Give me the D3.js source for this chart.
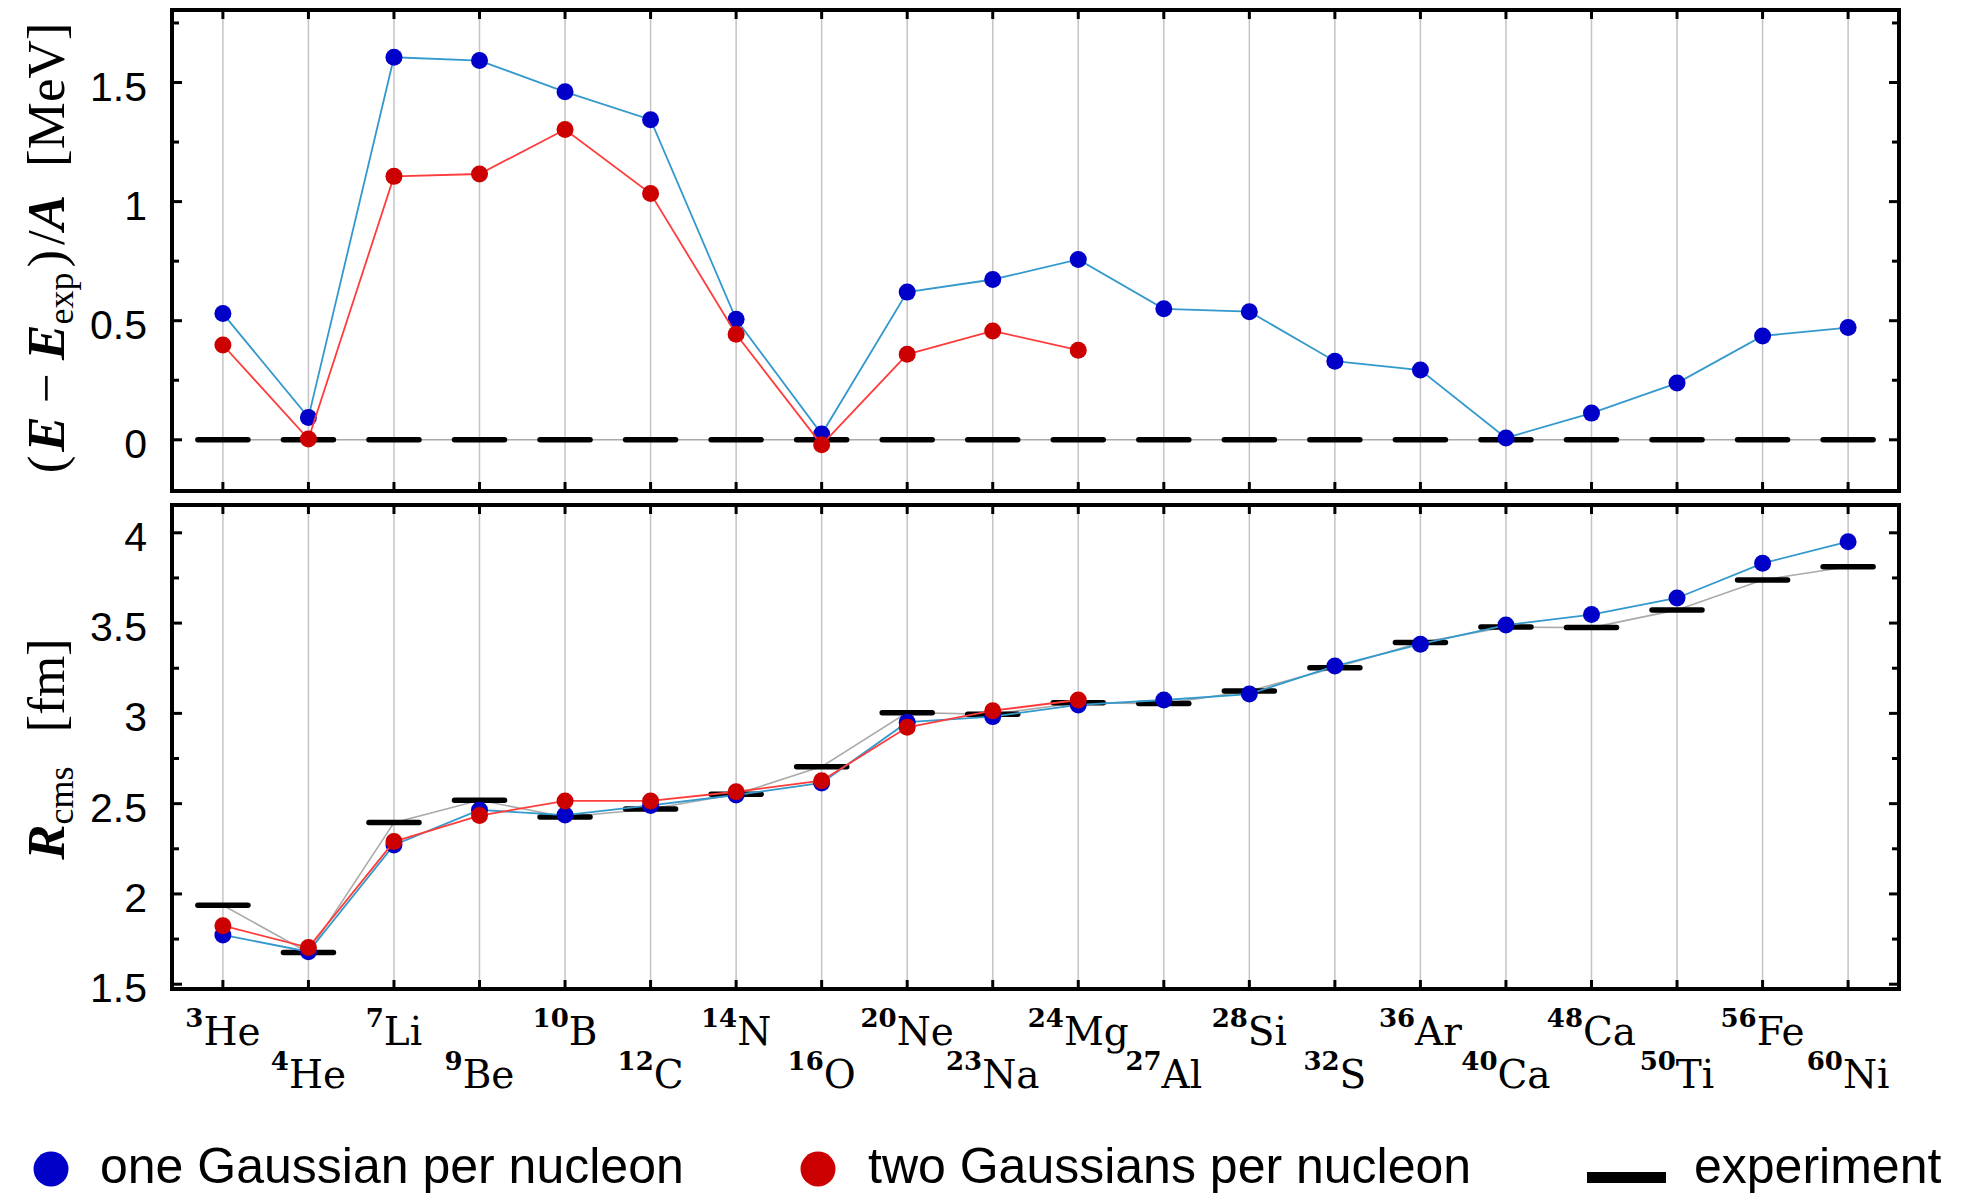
<!DOCTYPE html>
<html>
<head>
<meta charset="utf-8">
<script src="https://cdn.jsdelivr.net/npm/d3@7"></script>
<style>
  html, body { margin: 0; padding: 0; background: #fff; }
  svg { display: block; }
</style>
</head>
<body>
<svg id="chart" width="1964" height="1193"></svg>
<script>
// Nuclei along the x axis: mass number and element symbol
const massNumbers = ["3","4","7","9","10","12","14","16","20","23","24","27","28","32","36","40","48","50","56","60"];
const elements    = ["He","He","Li","Be","B","C","N","O","Ne","Na","Mg","Al","Si","S","Ar","Ca","Ca","Ti","Fe","Ni"];
const nuclei = massNumbers.map((a, i) => a + elements[i]);

// Binding energy deviation (E - E_exp)/A in MeV
const energyOneGauss = [0.530, 0.094, 1.606, 1.592, 1.461, 1.344, 0.506, 0.024, 0.620, 0.673,
                        0.757, 0.550, 0.538, 0.330, 0.293, 0.008, 0.112, 0.238, 0.436, 0.471];
const energyTwoGauss = [0.398, 0.003, 1.106, 1.116, 1.303, 1.034, 0.443, -0.021, 0.359, 0.457,
                        0.376, null, null, null, null, null, null, null, null, null];
const energyExp      = [0, 0, 0, 0, 0, 0, 0, 0, 0, 0, 0, 0, 0, 0, 0, 0, 0, 0, 0, 0];

// Charge radii R_cms in fm
const radiusOneGauss = [1.773, 1.680, 2.271, 2.465, 2.437, 2.490, 2.548, 2.615, 2.951, 2.982,
                        3.047, 3.074, 3.107, 3.262, 3.383, 3.489, 3.547, 3.639, 3.831, 3.951];
const radiusTwoGauss = [1.824, 1.703, 2.290, 2.434, 2.515, 2.515, 2.566, 2.627, 2.923, 3.015,
                        3.074, null, null, null, null, null, null, null, null, null];
const radiusExp      = [1.937, 1.675, 2.395, 2.519, 2.426, 2.470, 2.552, 2.705, 3.004, 2.995,
                        3.059, 3.054, 3.124, 3.253, 3.392, 3.478, 3.475, 3.573, 3.739, 3.812];

// Axis ticks
const energyTicks = [0, 0.5, 1, 1.5];
const energyMinor = [0.25, 0.75, 1.25, 1.75];
const radiusTicks = [1.5, 2, 2.5, 3, 3.5, 4];
const radiusMinor = [1.75, 2.25, 2.75, 3.25, 3.75];

const legendLabels = ["one Gaussian per nucleon", "two Gaussians per nucleon", "experiment"];

const C = {
  blueMark: "#0000c8", blueLine: "#3399cc",
  redMark: "#cc0000",  redLine: "#ff3c3c",
  expLine: "#aaaaaa", grid: "#c4c4c4"
};

const svg = d3.select("#chart");
const left = 172, right = 1899;

const x = d3.scalePoint().domain(nuclei).range([left, right]).padding(0.595);

const panels = [
  { top: 10, bottom: 491, domain: [-0.215, 1.8045], ticks: energyTicks, minor: energyMinor,
    one: energyOneGauss, two: energyTwoGauss, exp: energyExp },
  { top: 505, bottom: 989, domain: [1.4735, 4.154], ticks: radiusTicks, minor: radiusMinor,
    one: radiusOneGauss, two: radiusTwoGauss, exp: radiusExp }
];

panels.forEach(p => {
  const y = d3.scaleLinear().domain(p.domain).range([p.bottom, p.top]);
  const g = svg.append("g");

  // vertical grid at every nucleus
  g.selectAll("line.grid").data(nuclei).join("line")
    .attr("x1", d => x(d)).attr("x2", d => x(d))
    .attr("y1", p.top).attr("y2", p.bottom)
    .attr("stroke", C.grid).attr("stroke-width", 1.5);

  // inward ticks on all four sides
  const tickG = g.append("g").attr("stroke", "#000").attr("stroke-width", 3);
  nuclei.forEach(d => {
    tickG.append("line").attr("x1", x(d)).attr("x2", x(d)).attr("y1", p.top).attr("y2", p.top + 9);
    tickG.append("line").attr("x1", x(d)).attr("x2", x(d)).attr("y1", p.bottom).attr("y2", p.bottom - 9);
  });
  p.ticks.forEach(v => {
    tickG.append("line").attr("x1", left).attr("x2", left + 10).attr("y1", y(v)).attr("y2", y(v));
    tickG.append("line").attr("x1", right).attr("x2", right - 10).attr("y1", y(v)).attr("y2", y(v));
  });
  p.minor.forEach(v => {
    tickG.append("line").attr("x1", left).attr("x2", left + 7).attr("y1", y(v)).attr("y2", y(v));
    tickG.append("line").attr("x1", right).attr("x2", right - 7).attr("y1", y(v)).attr("y2", y(v));
  });

  // tick labels
  g.selectAll("text.ytick").data(p.ticks).join("text")
    .attr("x", 147).attr("y", d => y(d) + 18)
    .attr("text-anchor", "end")
    .attr("font-family", "'Liberation Sans', Arial, sans-serif")
    .attr("font-size", 41).attr("fill", "#000")
    .text(d => d3.format("")(d));

  const lineGen = d3.line()
    .defined(d => d.v !== null)
    .x(d => x(d.n)).y(d => y(d.v));
  const pts = arr => arr.map((v, i) => ({ n: nuclei[i], v }));

  // experiment: connecting line and horizontal bars
  g.append("path").datum(pts(p.exp)).attr("d", lineGen)
    .attr("fill", "none").attr("stroke", C.expLine).attr("stroke-width", 1.6);
  g.selectAll("line.exp").data(pts(p.exp)).join("line")
    .attr("x1", d => x(d.n) - 25).attr("x2", d => x(d.n) + 25)
    .attr("y1", d => y(d.v)).attr("y2", d => y(d.v))
    .attr("stroke", "#000").attr("stroke-width", 5.5).attr("stroke-linecap", "round");

  // one Gaussian per nucleon
  g.append("path").datum(pts(p.one)).attr("d", lineGen)
    .attr("fill", "none").attr("stroke", C.blueLine).attr("stroke-width", 1.8);
  g.selectAll("circle.one").data(pts(p.one).filter(d => d.v !== null)).join("circle")
    .attr("cx", d => x(d.n)).attr("cy", d => y(d.v)).attr("r", 8.5).attr("fill", C.blueMark);

  // two Gaussians per nucleon
  g.append("path").datum(pts(p.two)).attr("d", lineGen)
    .attr("fill", "none").attr("stroke", C.redLine).attr("stroke-width", 1.8);
  g.selectAll("circle.two").data(pts(p.two).filter(d => d.v !== null)).join("circle")
    .attr("cx", d => x(d.n)).attr("cy", d => y(d.v)).attr("r", 8.5).attr("fill", C.redMark);

  // frame
  g.append("rect").attr("x", left).attr("y", p.top)
    .attr("width", right - left).attr("height", p.bottom - p.top)
    .attr("fill", "none").attr("stroke", "#000").attr("stroke-width", 4);
});

// nucleus labels, alternating rows
const serif = "'Liberation Serif', 'DejaVu Serif', serif";
const labelSerif = "'DejaVu Serif', 'Liberation Serif', serif";
const labels = svg.append("g").attr("font-family", labelSerif).attr("fill", "#000");
nuclei.forEach((n, i) => {
  const t = labels.append("text")
    .attr("x", x(n)).attr("y", i % 2 === 0 ? 1045 : 1088)
    .attr("text-anchor", "middle").attr("font-size", 39);
  t.append("tspan").attr("font-size", 26).attr("font-weight", "bold")
    .attr("dy", -18).text(massNumbers[i]);
  t.append("tspan").attr("dy", 18).text(elements[i]);
});

// y axis titles
function axisTitle(cy, build) {
  const t = svg.append("text")
    .attr("transform", `translate(64,${cy}) rotate(-90)`)
    .attr("text-anchor", "middle")
    .attr("font-family", serif).attr("font-size", 53).attr("fill", "#000");
  build(t);
}
axisTitle(248, t => {
  t.append("tspan").text("(");
  t.append("tspan").attr("dx", 4).attr("font-weight", "bold").attr("font-style", "italic").text("E");
  t.append("tspan").text(" − ");
  t.append("tspan").attr("font-weight", "bold").attr("font-style", "italic").text("E");
  t.append("tspan").attr("font-size", 36).attr("dy", 9).text("exp");
  t.append("tspan").attr("dy", -9).attr("dx", 5).text(")");
  t.append("tspan").attr("dx", 5).text("/");
  t.append("tspan").attr("font-weight", "bold").attr("font-style", "italic").text("A");
  t.append("tspan").attr("dx", 28).text("[MeV]");
});
axisTitle(749, t => {
  t.append("tspan").attr("font-weight", "bold").attr("font-style", "italic").text("R");
  t.append("tspan").attr("font-size", 36).attr("dy", 9).text("cms");
  t.append("tspan").attr("dy", -9).attr("dx", 34).text("[fm]");
});

// legend
const sans = "'Liberation Sans', Arial, sans-serif";
const legend = svg.append("g").attr("font-family", sans).attr("font-size", 50).attr("fill", "#000");
legend.append("circle").attr("cx", 51).attr("cy", 1169).attr("r", 17.5).attr("fill", C.blueMark);
legend.append("text").attr("x", 100).attr("y", 1183).text(legendLabels[0]);
legend.append("circle").attr("cx", 818).attr("cy", 1169).attr("r", 17.5).attr("fill", C.redMark);
legend.append("text").attr("x", 868).attr("y", 1183).text(legendLabels[1]);
legend.append("rect").attr("x", 1587).attr("y", 1172).attr("width", 79).attr("height", 11).attr("fill", "#000");
legend.append("text").attr("x", 1694).attr("y", 1183).text(legendLabels[2]);
</script>
</body>
</html>
